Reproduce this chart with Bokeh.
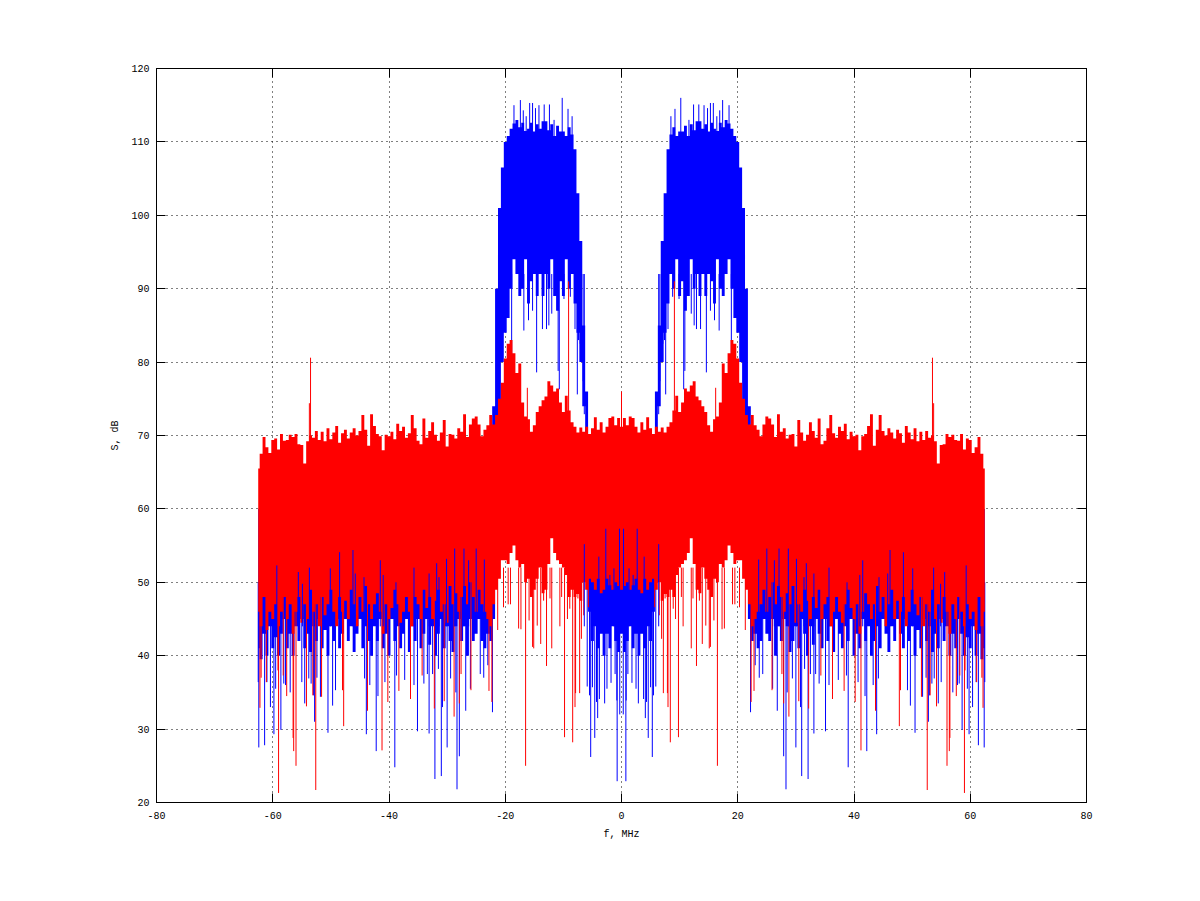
from bokeh.plotting import figure
from bokeh.models import ColumnDataSource, FixedTicker, LinearAxis, Range1d
from bokeh.embed import file_html
from bokeh.resources import INLINE

# Envelope values, one per 0.5 MHz bin, from -62.5 MHz to 0 MHz.
# The spectrum is mirror-symmetric about 0 MHz.
f_start = -62.5
f_step = 0.5

red_hi = [
    65.5, 67.5, 69.8, 68.4, 67.6, 69.4, 69.6, 68.1, 70.2, 69.3,
    69.4, 70.1, 69.8, 70.2, 68.8, 68.7, 66.2, 69.2, 70.0, 69.7,
    70.6, 69.4, 70.5, 69.2, 71.0, 69.5, 70.4, 71.3, 69.0, 70.3,
    70.8, 69.6, 70.4, 71.0, 70.0, 70.6, 72.8, 70.8, 68.6, 72.9,
    71.3, 70.2, 69.9, 68.0, 70.1, 69.9, 70.5, 69.5, 71.6, 70.6,
    71.2, 69.7, 70.3, 72.8, 71.0, 69.3, 68.8, 72.3, 69.7, 70.6,
    71.8, 70.1, 69.3, 70.4, 72.1, 68.5, 70.2, 70.1, 69.6, 71.0,
    70.5, 72.9, 69.8, 71.5, 72.3, 72.6, 71.5, 69.9, 70.8, 71.4,
    72.8, 71.5,
    72.8, 75.0, 77.2, 80.5, 82.5, 83.0, 81.2, 78.5, 79.8, 74.5,
    72.6, 72.2, 70.5, 71.4, 73.2, 74.0, 74.8, 75.3, 77.4, 76.8,
    76.0, 76.4, 74.5, 73.2, 75.4, 73.4, 71.8, 71.2, 70.4, 71.1,
    70.5, 71.2, 70.2, 71.0, 72.5, 70.8, 71.8, 70.4, 71.2, 72.4,
    72.6, 71.4, 72.4, 71.2,
]
red_lo = [
    46, 44, 48, 43.5, 46, 45, 47, 44, 46, 48,
    45, 47, 43, 46, 48, 44.5, 47, 45, 49, 46,
    47, 44, 48, 45.5, 47, 49, 46, 44, 48, 46,
    47.5, 45, 49, 47, 44, 48, 46, 49.5, 47, 45,
    47, 48.5, 46, 43, 47, 45, 46.5, 49, 47, 44.5,
    46, 48, 46, 44, 48, 47, 45, 49, 46.5, 48,
    45, 47.5, 49, 46, 47, 44.5, 49.5, 47, 48.5, 46,
    48, 49.5, 47, 50, 48, 46, 49, 47, 46, 45,
    44, 47,
    49, 50.5, 53, 53, 52.5, 54, 55, 53, 52, 52.5,
    50, 50.5, 48, 49, 50.5, 52, 48.5, 49, 52.5, 56,
    54, 53, 52.5, 52, 51, 48, 49, 48, 48.4, 47.5,
    50, 49, 50.5, 50, 49, 50.5, 48.5, 49, 50.5, 49.6,
    49, 50, 49.5, 49,
]
blue_hi = [
    60, 60, 60, 60, 60, 60, 60, 60, 60, 60,
    60, 60, 60, 60, 60, 60, 60, 60, 60, 60,
    60, 60, 60, 60, 60, 60, 60, 60, 60, 60,
    60, 60, 60, 60, 60, 60, 60, 60, 60, 60,
    60, 60, 60, 60, 60, 60, 60, 60, 60, 60,
    60, 60, 60, 60, 60, 60, 60, 60, 60, 60,
    60, 60, 60, 60, 60, 60, 60, 60, 60, 60,
    60, 60, 60, 60, 60, 60, 60, 60, 60, 60,
    68, 74,
    90, 101, 106.5, 110, 110.8, 111.8, 112.5, 113, 112, 112.6,
    111.5, 111.8, 112.6, 111.4, 112.4, 111.8, 112.8, 112.8, 111.6, 112.4,
    110.8, 112.2, 111.4, 111.4, 110.8, 112, 111, 109, 103, 96.5,
    85, 76, 62, 60, 60, 60, 60, 60, 60, 60,
    60, 60, 60, 60,
]
blue_lo = [
    41, 39.5, 43, 40, 44, 41, 42.5, 40, 43, 45,
    41, 43, 40, 44, 42, 45, 41, 43, 40.5, 44,
    42, 45, 41, 43.5, 40, 44, 42, 45, 41, 43,
    45, 42, 44, 40.5, 43, 45, 41, 44, 42, 40,
    44, 42, 45, 41, 43, 40, 45, 42, 44, 41,
    43, 45, 40.5, 44, 42, 45, 41, 43, 45, 41.5,
    44, 40, 43, 45, 41, 44, 42, 40.5, 44, 45,
    42, 44, 40, 45, 42, 43, 45, 42, 41, 43,
    42, 45,
    68, 72, 80, 84, 86, 90, 94, 92, 89, 90,
    94, 88, 91, 92, 89, 92, 89, 92, 90, 94,
    89, 87, 91, 89, 94, 90, 92, 88, 84, 80,
    74, 60, 46, 42, 44, 41, 43, 40, 43, 41,
    44, 42, 40.5, 43,
]

# Single excursions (negative side, mirrored for the positive side).
blue_dip_f = [
    -62.4, -61.4, -59.8, -58.6, -54.5, -52.8, -50.5, -49.7, -43.9, -42.2,
    -39.0, -35.1, -33.1, -32.1, -31.0, -30.0, -28.3, -27.9, -26.8, -22.2,
    -5.3, -4.6, -4.1, -2.9, -1.8, -0.75,
    -62.5, -61.0, -60.4, -59.5, -58.1, -57.8, -57.0, -55.0, -53.8, -53.4,
    -53.0, -52.4, -51.8, -49.2, -44.2, -43.3, -41.9, -40.7, -38.7, -37.3,
    -35.7, -34.0, -33.4, -32.5, -31.5, -30.8, -29.4, -28.5, -26.0, -24.3,
    -23.7, -23.0,
    -5.9, -5.5, -5.0, -4.3, -3.8, -2.5, -1.1, -0.8, -0.3,
]
blue_dip_db = [
    27.5, 27.8, 29.3, 29.9, 33.5, 31.0, 29.5, 33.2, 29.3, 27.0,
    24.8, 29.7, 29.4, 23.2, 23.6, 27.5, 21.8, 26.3, 32.5, 32.3,
    26.2, 28.8, 31.5, 33.5, 36.3, 22.9,
    36.4, 36.4, 33.0, 35.5, 36.2, 36.0, 35.0, 36.4, 36.9, 36.2,
    34.6, 37.0, 34.4, 35.3, 36.9, 36.0, 34.5, 36.4, 37.3, 36.7,
    36.0, 36.2, 37.5, 37.5, 38.2, 33.0, 36.9, 35.0, 35.5, 37.5,
    37.0, 38.7,
    35.8, 34.6, 35.7, 33.7, 34.1, 35.5, 37.5, 33.9, 32.0,
]
band_dip_f = [
    -20.9, -20.5, -19.9, -18.9, -16.8, -16.0, -15.3, -14.6, -13.6, -12.9,
    -12.5, -12.0, -10.9, -10.7, -9.9, -8.8, -8.0, -7.6, -7.4, -7.1, -6.6, -6.4,
]
band_dip_db = [
    82.0, 80.0, 86.0, 81.0, 84.3, 85.7, 87.0, 78.6, 84.5, 84.5,
    85.0, 86.6, 78.8, 76.3, 88.6, 88.9, 84.5, 75.6, 83.0, 82.5, 77.4, 72.9,
]
blue_peak_f = [
    -18.5, -17.4, -16.9, -16.4, -15.8, -15.3, -14.8, -14.2, -13.3, -12.4,
    -11.6, -10.2, -9.2, -8.5,
]
blue_peak_db = [
    115.0, 115.7, 114.3, 113.5, 115.3, 115.3, 114.6, 115.0, 115.1, 115.1,
    113.0, 116.0, 114.5, 113.5,
]
# Blue showing through gaps in the lower edge of the red band.
blue_notch_f = [
    -59.3, -55.6, -54.9, -53.7, -50.1, -48.5, -46.2, -45.8, -44.3, -41.5,
    -41.0, -38.8, -35.7, -33.1, -31.8, -31.4, -30.1, -28.7, -27.1, -26.3,
    -25.0, -23.6, -6.4, -3.9, -2.7, -2.0, -1.3, -0.35,
]
blue_notch_db = [
    52.3, 51.4, 49.8, 52.0, 51.9, 54.1, 54.4, 51.2, 50.7, 53.0,
    51.0, 50.0, 52.0, 51.2, 52.6, 50.7, 53.2, 54.6, 54.6, 53.0,
    54.6, 53.1, 55.2, 53.5, 57.3, 51.0, 51.9, 57.3,
]
red_dip_f = [
    -62.2, -59.0, -57.6, -56.5, -56.4, -56.0, -54.2, -52.6, -51.6, -47.8,
    -43.7, -41.2, -40.2, -38.3, -36.3, -32.2, -30.5, -28.8, -27.9, -22.8,
    -22.3, -17.7, -17.3, -16.5, -15.1, -13.9, -12.9, -12.0, -10.6, -9.8,
    -9.3, -8.4, -8.0, -7.9, -7.2, -6.9,
    -62.0, -61.1, -59.1, -58.2, -53.1, -48.0, -34.3, -27.6, -25.9,
    -21.3, -20.3, -19.5, -19.1, -15.9, -15.3, -14.5, -13.4, -12.3, -10.3,
    -8.9, -7.5, -6.5, -5.7,
]
red_dip_db = [
    32.9, 21.3, 34.5, 28.8, 27.0, 25.0, 33.1, 21.7, 34.4, 30.4,
    32.5, 27.1, 33.7, 35.2, 34.1, 32.8, 33.8, 31.7, 33.5, 35.2,
    33.7, 43.7, 43.6, 25.0, 41.0, 41.6, 38.6, 41.0, 44.0, 28.9,
    45.0, 28.2, 33.0, 34.9, 34.9, 42.3,
    37.0, 36.4, 38.0, 37.3, 34.6, 35.3, 37.3, 37.5, 35.3,
    43.5, 46.6, 47.0, 47.0, 44.8, 41.2, 44.1, 47.5, 47.8, 48.0,
    46.4, 47.8, 45.5, 46.6,
]
red_peak_f = [-53.7, -53.5, -16.2, -9.1]
red_peak_db = [74.4, 80.6, 76.5, 91.0]
red_center_peak_f = [0.0]
red_center_peak_db = [76.0]

x_ticks = [-80, -60, -40, -20, 0, 20, 40, 60, 80]
y_ticks = [20, 30, 40, 50, 60, 70, 80, 90, 100, 110, 120]
x_label = "f, MHz"
y_label = "S, dB"


def mirror(half):
    return list(half) + list(half[:-1])[::-1]


n_half = len(red_hi)
assert n_half == len(red_lo) == len(blue_hi) == len(blue_lo) == 126
f_half = [f_start + f_step * i for i in range(n_half)]
f_full = f_half + [-v for v in f_half[:-1]][::-1]

blue_src = ColumnDataSource(dict(x=f_full, top=mirror(blue_hi), bottom=mirror(blue_lo)))
red_src = ColumnDataSource(dict(x=f_full, top=mirror(red_hi), bottom=mirror(red_lo)))

p = figure(
    frame_width=930, frame_height=734,
    min_border_left=156, min_border_top=68, min_border_right=106, min_border_bottom=90,
    x_range=Range1d(-80, 80), y_range=Range1d(20, 120),
    output_backend="svg", toolbar_location=None, background_fill_color="white",
)

p.varea_step(x="x", y1="bottom", y2="top", source=blue_src, step_mode="center",
             fill_color="#0000ff")

both = lambda f: list(f) + [-v for v in f]

bd_x = both(blue_dip_f)
bd_y = list(blue_dip_db) * 2
p.segment(x0=bd_x, x1=bd_x, y0=bd_y, y1=[50] * len(bd_y), line_color="#0000ff", line_width=1)

bb_x = both(band_dip_f)
bb_y = list(band_dip_db) * 2
p.segment(x0=bb_x, x1=bb_x, y0=bb_y, y1=[92] * len(bb_y), line_color="#0000ff", line_width=1)

bt_x = both(blue_peak_f)
bt_y = list(blue_peak_db) * 2
p.segment(x0=bt_x, x1=bt_x, y0=[105] * len(bt_y), y1=bt_y, line_color="#0000ff", line_width=1)

p.varea_step(x="x", y1="bottom", y2="top", source=red_src, step_mode="center",
             fill_color="#ff0000")

rd_x = both(red_dip_f)
rd_y = list(red_dip_db) * 2
p.segment(x0=rd_x, x1=rd_x, y0=rd_y, y1=[52] * len(rd_y), line_color="#ff0000", line_width=1)

rp_x = both(red_peak_f) + red_center_peak_f
rp_y = list(red_peak_db) * 2 + red_center_peak_db
p.segment(x0=rp_x, x1=rp_x, y0=[66] * len(rp_y), y1=rp_y, line_color="#ff0000", line_width=1)

bn_x = both(blue_notch_f)
bn_y = list(blue_notch_db) * 2
p.segment(x0=bn_x, x1=bn_x, y0=[44] * len(bn_y), y1=bn_y, line_color="#0000ff", line_width=1)

FONT = "Liberation Mono"


def style(ax, ticks, labels=True):
    ax.ticker = FixedTicker(ticks=ticks)
    ax.major_tick_in = 9
    ax.major_tick_out = 0
    ax.minor_tick_in = 0
    ax.minor_tick_out = 0
    ax.major_tick_line_color = "black"
    ax.major_tick_line_width = 1
    ax.axis_line_color = "black"
    ax.axis_line_width = 1
    if labels:
        ax.major_label_overrides = {t: str(t) for t in ticks}
        ax.major_label_text_font = FONT
        ax.major_label_text_font_size = "10px"
        ax.major_label_text_color = "black"
        ax.major_label_standoff = 7
        ax.axis_label_text_font = FONT
        ax.axis_label_text_font_size = "10px"
        ax.axis_label_text_font_style = "normal"
        ax.axis_label_text_color = "black"
    else:
        ax.major_label_overrides = {t: "" for t in ticks}
        ax.major_label_standoff = 0


xa = p.xaxis[0]
ya = p.yaxis[0]
style(xa, x_ticks)
style(ya, y_ticks)
xa.major_label_standoff = 9
xa.axis_label = x_label
ya.axis_label = y_label
xa.axis_label_standoff = 7
ya.axis_label_standoff = 7
ya.major_label_orientation = "horizontal"

top_ax = LinearAxis()
right_ax = LinearAxis()
style(top_ax, x_ticks, labels=False)
style(right_ax, y_ticks, labels=False)
p.add_layout(top_ax, "above")
p.add_layout(right_ax, "right")

for g in (p.xgrid[0], p.ygrid[0]):
    g.grid_line_color = "black"
    g.grid_line_width = 1
    g.grid_line_dash = "1 4"
p.xgrid[0].ticker = FixedTicker(ticks=x_ticks)
p.ygrid[0].ticker = FixedTicker(ticks=y_ticks)

p.outline_line_color = "black"
p.outline_line_width = 1

open("out.html", "w").write(file_html(p, INLINE))
